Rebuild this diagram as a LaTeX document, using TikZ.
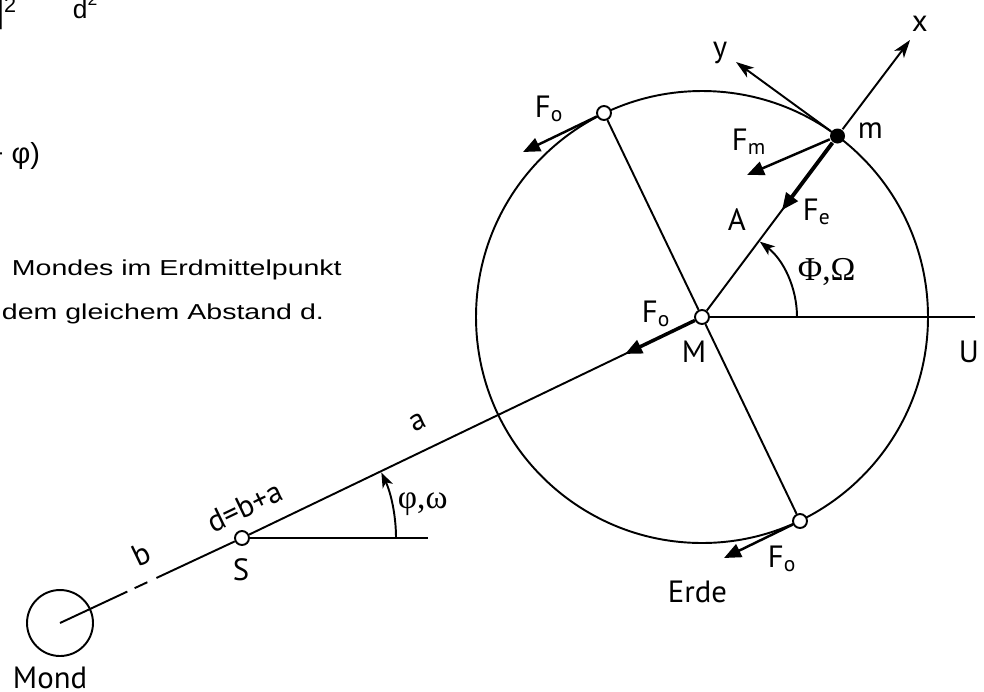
\documentclass[tikz,border=0pt]{standalone}
\usepackage{fontspec}
\setmainfont{PT Sans}
\newfontfamily\greekfont{Liberation Serif}
\newfontfamily\plainfont{Liberation Sans}
\newfontfamily\notefont[FakeStretch=1.32]{Liberation Sans}
\usetikzlibrary{arrows.meta,calc}

\begin{document}
\begin{tikzpicture}[x=0.02cm, y=0.02cm, line width=1.1pt,
        hole/.style={draw, circle, fill=white, inner sep=0pt, minimum size=0.28cm},
        mass/.style={circle, fill=black, inner sep=0pt, minimum size=0.3cm},
        lbl/.style={font=\fontsize{17.5}{20}\selectfont, inner sep=0pt},
        glbl/.style={font=\fontsize{19}{22}\selectfont\greekfont, inner sep=0pt},
        note/.style={font=\fontsize{12.3}{15}\selectfont\notefont, inner sep=0pt},
        frag/.style={font=\fontsize{15}{18}\selectfont\plainfont, inner sep=0pt},
        force/.style={-{Triangle[length=0.34cm, width=0.28cm]}, line width=1.4pt},
        axarr/.style={-{Stealth[length=0.36cm, width=0.24cm, inset=0.1cm]}},
        angarr/.style={-{Stealth[length=0.3cm, width=0.22cm, inset=0.08cm]}}
]
    \useasboundingbox (0,0) rectangle (984,-691);

    % text cut off at the page border
    \node[frag, anchor=base west, font=\fontsize{12.3}{15}\selectfont\plainfont] (bar) at (-2.5,-21.6) {\scalebox{1}[1.8]{|}\raisebox{0.18cm}{2}};
    \node[frag, anchor=base west] (dsq) at (72,-18) {d\raisebox{0.26cm}{\fontsize{10}{10}\selectfont 2}};
    \node[frag, anchor=base west] (br1) at (126,5.5) {[};
    \node[frag, anchor=base east] (br2) at (217,5.5) {]};
    \node[frag, anchor=base west] (br3) at (281,5.5) {[};
    \node[frag, anchor=base east] (br4) at (370,5.5) {]};
    \node[frag, anchor=base east, font=\fontsize{16.5}{18}\selectfont\plainfont] (phi) at (41,-163) {− φ)};
    \node[note, anchor=base west] (txt1) at (11,-275) {Mondes im Erdmittelpunkt};
    \node[note, anchor=base west] (txt2) at (1,-319) {dem gleichem Abstand d.};

    % Erde und Mond
    \coordinate (erde) at (702,-317);
    \draw (erde) circle[radius=226];
    \node[hole] (M) at (erde) {};
    \node[hole] (p1) at (604,-113) {};
    \node[hole] (p2) at (800,-521) {};
    \node[mass] (m) at (837.5,-136) {};
    \node[hole] (S) at (242,-538) {};
    \node[draw, circle, inner sep=0pt, minimum size=1.32cm] (mond) at (60,-623) {};

    \coordinate (xtip) at (910,-40);
    \coordinate (ytip) at (736,-62);
    \coordinate (fm) at (747,-175);
    \coordinate (fo1) at (523,-152);
    \coordinate (fo2) at (724,-558);
    \coordinate (fo3) at (625,-354);
    \coordinate (uend) at (975,-317);
    \coordinate (send) at (428,-538);

    \draw (p1) -- (M);
    \draw (M) -- (p2);
    \draw (M) -- (m);
    \draw (M) -- (uend);
    \draw (S) -- (M);
    \draw (S) -- (send);
    \draw (mond.center) -- ($(mond.center)!0.37!(S)$);
    \draw ($(mond.center)!0.41!(S)$) -- ($(mond.center)!0.48!(S)$);
    \draw ($(mond.center)!0.53!(S)$) -- (S);

    \draw[axarr] (m) -- (xtip);
    \draw[axarr] (m) -- (ytip);
    \draw[force] (m) -- (fm);
    \draw[force, line width=2.2pt] (m) -- ($(m)!0.41!(M)$);
    \draw[force, line width=2pt] (M) -- (fo3);
    \draw[force] (p1) -- (fo1);
    \draw[force] (p2) -- (fo2);

    \draw[angarr] ([shift={(0:95)}]M.center) arc[start angle=0, end angle=52.5, radius=95];
    \draw[angarr] ([shift={(0:154)}]S.center) arc[start angle=0, end angle=25.2, radius=154];

    % Beschriftung
    \node[lbl, anchor=base west] (lx) at (911,-31) {x};
    \node[lbl, anchor=base west] (ly) at (712,-57) {y};
    \node[lbl, anchor=base west] (lm) at (857,-138) {m};
    \node[lbl, anchor=base west] (lfm) at (731,-150) {F\textsubscript{m}};
    \node[lbl, anchor=base west] (lfe) at (802,-220) {F\textsubscript{e}};
    \node[lbl, anchor=base west] (lA) at (727,-230) {A};
    \node[glbl, anchor=base west] (lPhi) at (797,-280) {Φ,Ω};
    \node[lbl, anchor=base west] (lU) at (958,-362) {U};
    \node[lbl, anchor=base west] (lM) at (681,-362) {M};
    \node[lbl, anchor=base west] (lfo1) at (534,-117) {F\textsubscript{o}};
    \node[lbl, anchor=base west] (lfo3) at (641,-322) {F\textsubscript{o}};
    \node[lbl, anchor=base west] (lfo2) at (767,-567) {F\textsubscript{o}};
    \node[lbl, anchor=base west] (lerde) at (667,-602) {Erde};
    \node[lbl, anchor=base west] (lmond) at (12,-688) {Mond};
    \node[lbl, anchor=base west] (lS) at (232,-580) {S};
    \node[glbl, anchor=base west] (lphi) at (397,-508) {φ,ω};
    \node[lbl, rotate=25.7] (la) at (418,-422) {a};
    \node[lbl, rotate=25.7] (ld) at (245,-507) {d=b+a};
    \node[lbl, rotate=25.7] (lb) at (141,-554) {b};
\end{tikzpicture}
\end{document}
